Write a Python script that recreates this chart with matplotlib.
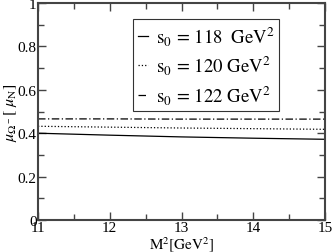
import numpy as np
import matplotlib
matplotlib.use("Agg")
import matplotlib.pyplot as plt
from matplotlib.ticker import MultipleLocator, FixedLocator

plt.rcParams['font.family'] = ['Liberation Serif', 'DejaVu Serif']
plt.rcParams['mathtext.fontset'] = 'stix'

# Data
m2 = [11, 12, 13, 14, 15]
mu_118 = [0.400, 0.391, 0.383, 0.377, 0.372]
mu_120 = [0.432, 0.428, 0.424, 0.421, 0.418]
mu_122 = [0.466, 0.466, 0.465, 0.465, 0.465]
labels = [r'$\mathrm{s}_0\,=\,118\ \ \mathrm{GeV}^2$',
          r'$\mathrm{s}_0\,=\,120\ \mathrm{GeV}^2$',
          r'$\mathrm{s}_0\,=\,122\ \mathrm{GeV}^2$']

fig = plt.figure(figsize=(3.32, 2.53), dpi=100)
ax = fig.add_axes([0.1145, 0.1265, 0.8645, 0.8575])

ax.plot(m2, mu_118, '-', color='black', lw=0.9, label=labels[0])
ax.plot(m2, mu_120, ':', color='black', lw=0.9, label=labels[1])
ax.plot(m2, mu_122, '-.', color='black', lw=0.9, label=labels[2],
        dashes=(6, 2, 1, 2))

ax.set_xlim(11, 15)
ax.set_ylim(0, 1)
ax.xaxis.set_major_locator(MultipleLocator(1))
ax.xaxis.set_minor_locator(MultipleLocator(0.5))
ax.yaxis.set_major_locator(FixedLocator([0, 0.2, 0.4, 0.6, 0.8, 1]))
ax.yaxis.set_minor_locator(MultipleLocator(0.1))
ax.set_yticklabels(['0', '0.2', '0.4', '0.6', '0.8', '1'])
ax.tick_params(which='both', direction='in', top=True, right=True,
               labelsize=11, pad=1, color='#444444')
ax.tick_params(which='major', length=6, width=1)
ax.tick_params(which='minor', length=4, width=1)
for s in ax.spines.values():
    s.set_color('#444444')
    s.set_linewidth(1.5)

ax.set_xlabel(r'$\mathrm{M}^2[\mathrm{GeV}^2]$', fontsize=11, labelpad=0)
ax.set_ylabel(r'$\mu_{\Omega^-}[\ \mu_\mathrm{N}]$', fontsize=11.5, labelpad=-1)

leg = ax.legend(loc='upper left', bbox_to_anchor=(0.331, 0.926), fontsize=13.5,
                frameon=True, fancybox=False, edgecolor='black',
                handlelength=0.55, handletextpad=0.4, borderpad=0.25,
                borderaxespad=0, labelspacing=0.35)
leg.get_frame().set_linewidth(0.8)

fig.savefig('out.png', dpi=100)
